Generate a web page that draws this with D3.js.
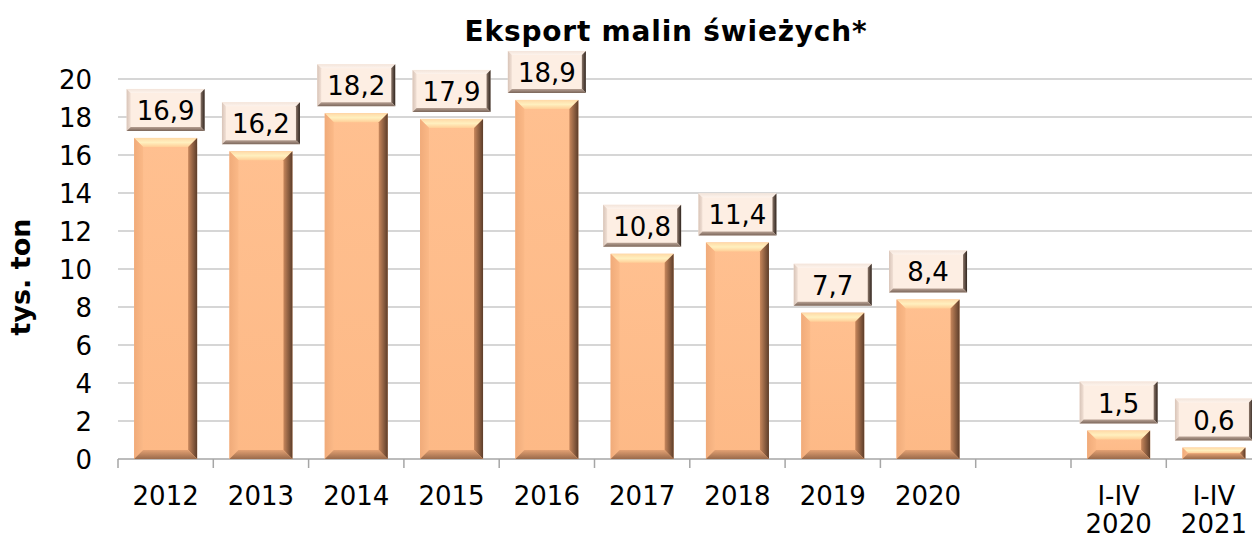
<!DOCTYPE html>
<html lang="pl">
<head>
  <meta charset="UTF-8">
  <title>Eksport malin świeżych</title>
  <script src="https://d3js.org/d3.v7.min.js"></script>
  <style>
    body { margin: 0; overflow: hidden; background: #fff; font-family: "DejaVu Sans", Verdana, sans-serif; }
    svg { display: block; }
  </style>
</head>
<body>
  <script>
    const categories = ["2012", "2013", "2014", "2015", "2016", "2017", "2018", "2019", "2020", "", "I-IV\n2020", "I-IV\n2021"];
    const values = [16.9, 16.2, 18.2, 17.9, 18.9, 10.8, 11.4, 7.7, 8.4, null, 1.5, 0.6];
    const yTicks = [0, 2, 4, 6, 8, 10, 12, 14, 16, 18, 20];
    const title = "Eksport malin świeżych*";
    const yTitle = "tys. ton";

    const W = 1252, H = 539;
    const plotLeft = 118, step = 95.3, plotTop = 79, plotBottom = 459;

    const svg = d3.select("body").append("svg").attr("width", W).attr("height", H);
    const defs = svg.append("defs");

    function grad(id, x2, y2, stops) {
      const g = defs.append("linearGradient").attr("id", id)
        .attr("x1", 0).attr("y1", 0).attr("x2", x2).attr("y2", y2);
      stops.forEach(([o, c]) => g.append("stop").attr("offset", o).attr("stop-color", c));
    }
    // bar bevels
    grad("bTop", 0, 1, [[0, "#ffd9a6"], [0.5, "#fff0bf"], [1, "#ffcf98"]]);
    grad("bLeft", 1, 0, [[0, "#f0ab7a"], [1, "#fbb987"]]);
    grad("bRight", 1, 0, [[0, "#c8875c"], [1, "#5c3d2a"]]);
    grad("bBot", 0, 1, [[0, "#e3a173"], [1, "#9a6a4a"]]);
    grad("bFace", 0, 1, [[0, "#ffc090"], [1, "#fdb986"]]);
    // label box bevels
    grad("lTop", 0, 1, [[0, "#f3e4da"], [1, "#fdf3ec"]]);
    grad("lLeft", 1, 0, [[0, "#d8c4b8"], [1, "#f1e0d5"]]);
    grad("lRight", 1, 0, [[0, "#8a7568"], [1, "#2f241e"]]);
    grad("lBot", 0, 1, [[0, "#b7a194"], [1, "#7c675b"]]);

    const x = d3.scaleBand().domain(d3.range(categories.length))
      .range([plotLeft, plotLeft + step * categories.length]).padding(0);
    const y = d3.scaleLinear().domain([0, 20]).range([plotBottom, plotTop]);

    // gridlines
    svg.append("g").selectAll("line")
      .data(yTicks.filter(d => d > 0))
      .join("line")
      .attr("x1", plotLeft).attr("x2", W)
      .attr("y1", d => y(d)).attr("y2", d => y(d))
      .attr("stroke", "#c8c8c8").attr("stroke-width", 1.5);

    // y axis labels
    svg.append("g").selectAll("text")
      .data(yTicks)
      .join("text")
      .attr("x", 92).attr("y", d => y(d) + 9.5)
      .attr("text-anchor", "end")
      .attr("font-size", 26).attr("fill", "#000")
      .text(d => d);

    // x axis
    const xa = svg.append("g");
    xa.append("line").attr("x1", plotLeft).attr("x2", W).attr("y1", plotBottom).attr("y2", plotBottom)
      .attr("stroke", "#a6a6a6").attr("stroke-width", 1.5);
    xa.selectAll(".tk")
      .data(d3.range(categories.length + 1))
      .join("line")
      .attr("class", "tk")
      .attr("x1", i => plotLeft + i * x.step()).attr("x2", i => plotLeft + i * x.step())
      .attr("y1", plotBottom).attr("y2", plotBottom + 9)
      .attr("stroke", "#a6a6a6").attr("stroke-width", 1.5);

    xa.selectAll(".cat")
      .data(categories)
      .join("text")
      .attr("class", "cat")
      .attr("text-anchor", "middle")
      .attr("font-size", 26)
      .attr("fill", "#000")
      .each(function(d, i) {
        const t = d3.select(this);
        d.split("\n").forEach((ln, k) => {
          t.append("tspan")
            .attr("x", x(i) + x.bandwidth() / 2)
            .attr("y", 505 + k * 28)
            .text(ln);
        });
      });

    function bevel(g, x0, y0, w, h, b, ids) {
      b = Math.min(b, h / 2, w / 2);
      const x1 = x0 + w, y1 = y0 + h;
      g.append("rect").attr("x", x0).attr("y", y0).attr("width", w).attr("height", h).attr("fill", ids.face);
      const poly = (pts, fill) => g.append("polygon").attr("points", pts.map(p => p.join(",")).join(" ")).attr("fill", fill);
      poly([[x0, y0], [x1, y0], [x1 - b, y0 + b], [x0 + b, y0 + b]], ids.top);
      poly([[x0, y0], [x0 + b, y0 + b], [x0 + b, y1 - b], [x0, y1]], ids.left);
      poly([[x1, y0], [x1, y1], [x1 - b, y1 - b], [x1 - b, y0 + b]], ids.right);
      poly([[x0, y1], [x0 + b, y1 - b], [x1 - b, y1 - b], [x1, y1]], ids.bot);
    }

    const barW = 63;
    const bars = svg.append("g");
    values.forEach((v, i) => {
      if (v == null) return;
      const cx = x(i) + x.bandwidth() / 2;
      bevel(bars.append("g"), cx - barW / 2, y(v), barW, y(0) - y(v), 9,
        { face: "url(#bFace)", top: "url(#bTop)", left: "url(#bLeft)", right: "url(#bRight)", bot: "url(#bBot)" });
    });

    // value labels in boxes
    const boxW = 78, boxH = 42;
    const lab = svg.append("g");
    values.forEach((v, i) => {
      if (v == null) return;
      const cx = x(i) + x.bandwidth() / 2;
      const by = y(v) - 7 - boxH;
      const g = lab.append("g");
      bevel(g, cx - boxW / 2, by, boxW, boxH, 4,
        { face: "#fdeee3", top: "url(#lTop)", left: "url(#lLeft)", right: "url(#lRight)", bot: "url(#lBot)" });
      g.append("text")
        .attr("x", cx).attr("y", by + 31)
        .attr("text-anchor", "middle")
        .attr("font-size", 26).attr("fill", "#000")
        .text(d3.format(".1f")(v).replace(".", ","));
    });

    // titles
    svg.append("text")
      .attr("x", 666).attr("y", 41)
      .attr("text-anchor", "middle")
      .attr("font-size", 28).attr("font-weight", "bold")
      .attr("letter-spacing", 0.8)
      .text(title);

    svg.append("text")
      .attr("transform", "translate(30,277) rotate(-90)")
      .attr("text-anchor", "middle")
      .attr("font-size", 27).attr("font-weight", "bold")
      .text(yTitle);
  </script>
</body>
</html>
